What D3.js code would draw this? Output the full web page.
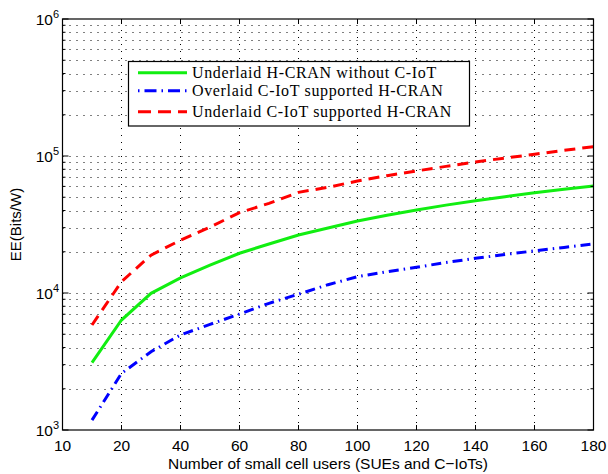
<!DOCTYPE html>
<html>
<head>
<meta charset="utf-8">
<script src="https://cdn.jsdelivr.net/npm/d3@7"></script>
<style>
  html, body { margin: 0; padding: 0; background: #fff; }
  svg { display: block; }
</style>
</head>
<body>
<svg id="chart" width="608" height="474"></svg>
<script>
// Number of small cell users at which the energy efficiency was evaluated
const users = [10, 20, 30, 40, 50, 60, 70, 80, 90, 100, 110, 120, 130, 140, 150, 160, 170, 180];

// Energy efficiency (Bits/W) per scheme
const underlaidNoCIoT = [3100, 6350, 9950, 12900, 16000, 19500, 22800, 26500, 29800, 33500,
                         37000, 40300, 43800, 47200, 50500, 54000, 57200, 60400];
const overlaidCIoT    = [1180, 2590, 3730, 4940, 5900, 7020, 8410, 9800, 11500, 13150,
                         14300, 15400, 16700, 17900, 19100, 20300, 21500, 22800];
const underlaidCIoT   = [5840, 12100, 18900, 24300, 30300, 38600, 45100, 54300, 59100, 65700,
                         71800, 77800, 84000, 90400, 96700, 102900, 110000, 116900];

// Axis tick values and their printed labels
const xTickValues = [0, 20, 40, 60, 80, 100, 120, 140, 160, 180];
const xTickLabels = ["10", "20", "40", "60", "80", "100", "120", "140", "160", "180"];
const yDecades = [1e3, 1e4, 1e5, 1e6];

const seriesNames = [
  "Underlaid H-CRAN without C-IoT",
  "Overlaid C-IoT supported H-CRAN",
  "Underlaid C-IoT supported H-CRAN"
];

const svg = d3.select("#chart");
const plot = { left: 62.5, right: 593.5, top: 19, bottom: 430 };

const x = d3.scaleLinear().domain([0, 180]).range([plot.left, plot.right]);
const y = d3.scaleLog().domain([1e3, 1e6]).range([plot.bottom, plot.top]);

// minor log ticks (2..9 x 10^k)
const yMinor = [];
for (let k = 3; k < 6; k++) for (let m = 2; m <= 9; m++) yMinor.push(m * Math.pow(10, k));

// dotted grid
const grid = svg.append("g").attr("stroke", "#000").attr("stroke-width", 1)
  .attr("stroke-dasharray", "1,6").attr("fill", "none");
xTickValues.slice(1, -1).forEach(v => {
  grid.append("line").attr("x1", x(v)).attr("x2", x(v)).attr("y1", plot.bottom).attr("y2", plot.top);
});
yMinor.concat(yDecades.slice(1, -1)).forEach(v => {
  grid.append("line").attr("x1", plot.left).attr("x2", plot.right).attr("y1", Math.round(y(v)) + 0.5).attr("y2", Math.round(y(v)) + 0.5);
});

// curves
const line = d3.line().x((d, i) => x(users[i])).y(d => y(d));
const series = [
  { data: underlaidNoCIoT, color: "#11ee11", dash: null },
  { data: overlaidCIoT,    color: "#0000ff", dash: "10,5,1.5,5" },
  { data: underlaidCIoT,   color: "#ff0000", dash: "11,7" }
];
series.forEach(s => {
  svg.append("path").datum(s.data)
    .attr("d", line)
    .attr("fill", "none")
    .attr("stroke", s.color)
    .attr("stroke-width", 3)
    .attr("stroke-dasharray", s.dash);
});

// axes box and inward ticks
const axes = svg.append("g").attr("stroke", "#000").attr("fill", "none");
axes.append("rect").attr("x", plot.left).attr("y", plot.top)
  .attr("width", plot.right - plot.left).attr("height", plot.bottom - plot.top)
  .attr("stroke-width", 1.2);
xTickValues.forEach(v => {
  axes.append("line").attr("x1", x(v)).attr("x2", x(v)).attr("y1", plot.bottom).attr("y2", plot.bottom - 5);
  axes.append("line").attr("x1", x(v)).attr("x2", x(v)).attr("y1", plot.top).attr("y2", plot.top + 5);
});
yDecades.forEach(v => {
  axes.append("line").attr("x1", plot.left).attr("x2", plot.left + 6).attr("y1", y(v)).attr("y2", y(v));
  axes.append("line").attr("x1", plot.right).attr("x2", plot.right - 6).attr("y1", y(v)).attr("y2", y(v));
});
yMinor.forEach(v => {
  axes.append("line").attr("x1", plot.left).attr("x2", plot.left + 3).attr("y1", y(v)).attr("y2", y(v));
  axes.append("line").attr("x1", plot.right).attr("x2", plot.right - 3).attr("y1", y(v)).attr("y2", y(v));
});

// tick labels
const font = "'Liberation Sans', Arial, Helvetica, sans-serif";
svg.append("g").selectAll("text").data(xTickValues).join("text")
  .attr("x", d => x(d)).attr("y", 450.5)
  .attr("text-anchor", "middle")
  .attr("font-family", font).attr("font-size", 15.5)
  .text((d, i) => xTickLabels[i]);

const yl = svg.append("g").selectAll("text").data(yDecades).join("text")
  .attr("x", 59).attr("y", d => y(d) + 6)
  .attr("text-anchor", "end")
  .attr("font-family", font).attr("font-size", 15.5);
yl.append("tspan").text("10");
yl.append("tspan").attr("font-size", 11).attr("dy", -7.5).text(d => Math.round(Math.log10(d)));

// axis titles
svg.append("text").attr("x", (plot.left + plot.right) / 2).attr("y", 469)
  .attr("text-anchor", "middle").attr("font-family", font).attr("font-size", 15.5)
  .text("Number of small cell users (SUEs and C\u2212IoTs)");
svg.append("text").attr("transform", `translate(21, ${(plot.top + plot.bottom) / 2}) rotate(-90)`)
  .attr("text-anchor", "middle").attr("font-family", font).attr("font-size", 15)
  .text("EE(Bits/W)");

// legend
const lg = svg.append("g");
lg.append("rect").attr("x", 128.5).attr("y", 61.5).attr("width", 341).attr("height", 64.5)
  .attr("fill", "#fff").attr("stroke", "#000").attr("stroke-width", 1.2);
const rowY = [72.7, 90.7, 111.7];
series.forEach((s, i) => {
  lg.append("line").attr("x1", 138).attr("x2", 187).attr("y1", rowY[i]).attr("y2", rowY[i])
    .attr("stroke", s.color).attr("stroke-width", 3)
    .attr("stroke-dasharray", i === 1 ? "1.5,5,12,5" : (i === 2 ? "13,7" : null));
  lg.append("text").attr("x", 192).attr("y", rowY[i] + 5)
    .attr("font-family", "'Liberation Serif', 'Times New Roman', serif").attr("font-size", 16)
    .attr("letter-spacing", 0.65)
    .text(seriesNames[i]);
});
</script>
</body>
</html>
